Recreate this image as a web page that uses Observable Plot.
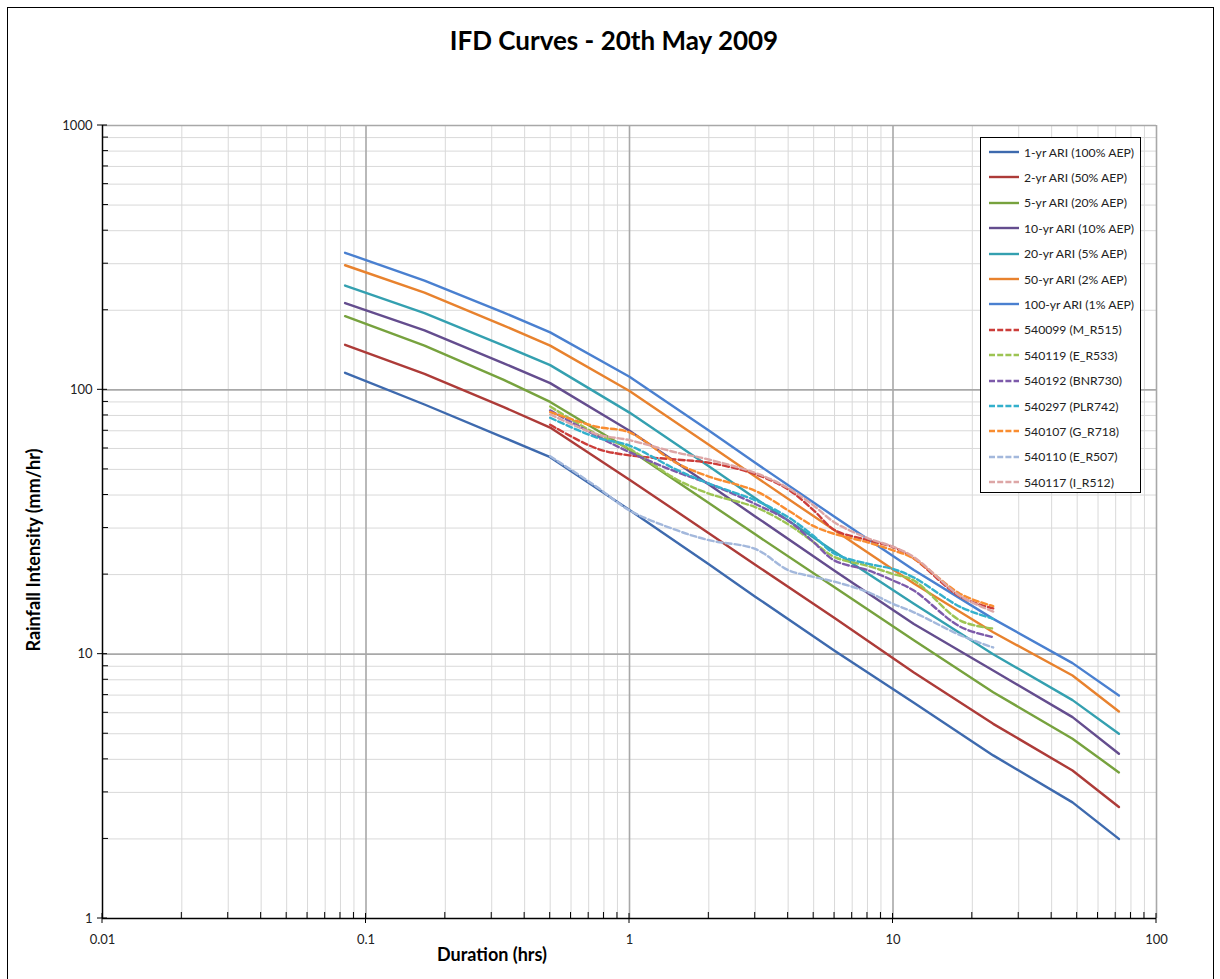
<!DOCTYPE html>
<html>
<head>
<meta charset="utf-8">
<script src="https://cdn.jsdelivr.net/npm/d3@7"></script>
<script src="https://cdn.jsdelivr.net/npm/@observablehq/plot@0.6"></script>
<style>
  body { margin: 0; background: #fff; }
  #wrap { position: relative; width: 1220px; height: 979px; overflow: hidden; background: #fff; }
  #frame { position: absolute; left: 7px; top: 7px; width: 1207px; height: 1000px; border: 1.5px solid #000; box-sizing: border-box; }
  #title { position: absolute; top: 24px; left: 0; width: 1228px; text-align: center;
    font-family: Lato, "Open Sans", sans-serif; font-weight: bold; font-size: 26px; color: #000; }
  #chart { position: absolute; left: 0; top: 100px; }
  .axlabel { position: absolute; font-family: Lato, "Open Sans", sans-serif; font-weight: bold; font-size: 18px; color: #000; white-space: nowrap; }
  #ylab { left: 33px; top: 550px; transform: translate(-50%, -50%) rotate(-90deg); }
  #xlab { left: 492px; top: 954px; transform: translate(-50%, -50%); }
  #legend { position: absolute; left: 980px; top: 137px; width: 161px; height: 356px; border: 1px solid #000; background: #fff; box-sizing: border-box; }
  .lrow { position: absolute; left: 7px; height: 20px; display: flex; align-items: center;
    font-family: Lato, "Open Sans", sans-serif; font-size: 12.2px; color: #222; white-space: nowrap; }
  .lrow svg { margin-right: 4px; }
</style>
</head>
<body>
<div id="wrap">
  <div id="frame"></div>
  <div id="title">IFD Curves - 20th May 2009</div>
  <div id="chart"></div>
  <div class="axlabel" id="ylab">Rainfall Intensity (mm/hr)</div>
  <div class="axlabel" id="xlab">Duration (hrs)</div>
  <div id="legend"></div>
</div>
<script>
// ---- Data ----
const ifdDurations = [0.0833, 0.1667, 0.3333, 0.5, 1, 2, 3, 6, 12, 24, 48, 72];
const ari1   = [116, 88, 66, 55.6, 35.1, 21.9, 16.5, 10.3, 6.55, 4.14, 2.75, 2.0];
const ari2   = [148, 115, 86, 72, 45.7, 28.7, 21.8, 13.7, 8.53, 5.45, 3.63, 2.64];
const ari5   = [190, 147, 109, 90, 59.3, 37.3, 28.4, 17.9, 11.3, 7.18, 4.79, 3.57];
const ari10  = [213, 168, 126, 106, 70, 43.8, 33.2, 20.7, 13.0, 8.68, 5.78, 4.2];
const ari20  = [248, 195, 147, 124, 82, 51.4, 38.9, 24.4, 15.5, 10.0, 6.7, 5.0];
const ari50  = [296, 233, 175, 147, 99, 62, 47, 29.4, 18.5, 12.1, 8.3, 6.07];
const ari100 = [330, 259, 196, 165, 112, 70.2, 53, 33.1, 20.8, 13.6, 9.25, 6.98];

const obsDurations = [0.5, 0.75, 1, 1.5, 2, 3, 4, 5, 6, 8, 10, 12, 18, 24];
const g540099 = [73.8, 60, 56.5, 54.5, 53, 48, 42, 35, 29.5, 27, 25.4, 23, 16.5, 14.9];
const g540119 = [86.5, 68, 59.8, 46, 40.5, 36, 31, 26.5, 23.3, 21.6, 20.1, 19.0, 13.4, 12.5];
const g540192 = [83.6, 67, 58.1, 49, 44.2, 37, 32, 26.5, 22.6, 20.8, 19.0, 17.4, 12.7, 11.6];
const g540297 = [78.4, 66, 61.5, 50, 44.2, 38.2, 33, 28, 24, 22, 21, 19.5, 15.1, 13.6];
const g540107 = [82.4, 72.5, 69, 53, 47, 41.5, 35, 30.5, 28.5, 26.5, 24.7, 23, 16.9, 15.2];
const g540110 = [56.1, 43, 35, 29.5, 27, 25, 20.8, 19.6, 18.8, 17.2, 15.5, 14.4, 11.8, 10.6];
const g540117 = [80.7, 68, 64.5, 58, 54.5, 48.5, 42.5, 36.5, 31.5, 27.5, 25.5, 23.3, 16.6, 14.5];

const ifdNames = ["1-yr ARI (100% AEP)", "2-yr ARI (50% AEP)", "5-yr ARI (20% AEP)", "10-yr ARI (10% AEP)",
  "20-yr ARI (5% AEP)", "50-yr ARI (2% AEP)", "100-yr ARI (1% AEP)"];
const ifdValues = [ari1, ari2, ari5, ari10, ari20, ari50, ari100];
const ifdColors = ["#3e6aae", "#ad3b38", "#77a23e", "#644d8e", "#34a0b0", "#e8822e", "#4a80d0"];

const obsNames = ["540099 (M_R515)", "540119 (E_R533)", "540192 (BNR730)", "540297 (PLR742)",
  "540107 (G_R718)", "540110 (E_R507)", "540117 (I_R512)"];
const obsValues = [g540099, g540119, g540192, g540297, g540107, g540110, g540117];
const obsColors = ["#cc3d3a", "#9dc453", "#7d5aaa", "#33b0cc", "#f98d30", "#a3b8dc", "#dda6a6"];

const xMajor = [0.01, 0.1, 1, 10, 100];
const xTickLabels = ["0.01", "0.1", "1", "10", "100"];
const yMajor = [1, 10, 100, 1000];
const yTickLabels = ["1", "10", "100", "1000"];
const minorMult = [2, 3, 4, 5, 6, 7, 8, 9];
const xMinor = xMajor.slice(0, -1).flatMap(d => minorMult.map(m => +(d * m).toPrecision(3)));
const yMinor = yMajor.slice(0, -1).flatMap(d => minorMult.map(m => d * m));

// ---- Tables ----
const ifdRows = ifdNames.flatMap((name, i) => ifdDurations.map((d, j) => ({name, d, v: ifdValues[i][j]})));
const obsRows = obsNames.flatMap((name, i) => obsDurations.map((d, j) => ({name, d, v: obsValues[i][j]})));

const xLabelOf = d => xTickLabels[xMajor.findIndex(v => Math.abs(v - d) < 1e-9 * Math.max(1, d))];
const yLabelOf = d => yTickLabels[yMajor.findIndex(v => Math.abs(v - d) < 1e-9 * Math.max(1, d))];

const chart = Plot.plot({
  width: 1220,
  height: 879,
  marginTop: 25,
  marginLeft: 102,
  marginRight: 64,
  marginBottom: 61,
  style: {fontFamily: "Lato, 'Open Sans', sans-serif", fontSize: "13px", color: "#222", background: "transparent"},
  x: {type: "log", domain: [0.01, 100]},
  y: {type: "log", domain: [1, 1000]},
  color: {domain: [...ifdNames, ...obsNames], range: [...ifdColors, ...obsColors]},
  marks: [
    Plot.ruleX(xMinor, {stroke: "#d9d9d9", strokeWidth: 1}),
    Plot.ruleY(yMinor, {stroke: "#d9d9d9", strokeWidth: 1}),
    Plot.ruleX(xMajor.slice(1), {stroke: "#a8a8a8", strokeWidth: 1.6}),
    Plot.ruleY(yMajor.slice(1), {stroke: "#a8a8a8", strokeWidth: 1.6}),
    Plot.axisX(xMajor, {tickSize: 0, tickPadding: 16, tickFormat: xLabelOf, label: null, fill: "#222"}),
    Plot.axisY(yMajor, {tickSize: 0, tickPadding: 10, tickFormat: yLabelOf, label: null, fill: "#222"}),
    Plot.line(ifdRows, {x: "d", y: "v", z: "name", stroke: "name", strokeWidth: 2.4, curve: "linear"}),
    Plot.line(obsRows, {x: "d", y: "v", z: "name", stroke: "name", strokeWidth: 2.4, strokeDasharray: "6,3", curve: "catmull-rom"}),
    Plot.ruleX([0.01], {stroke: "#000", strokeWidth: 1.5}),
    Plot.ruleY([1], {stroke: "#000", strokeWidth: 1.5})
  ]
});

// tick marks via the plot's own scales
const sx = chart.scale("x"), sy = chart.scale("y");
const x0 = sx.apply(0.01), y0 = sy.apply(1);
const tg = d3.select(chart).append("g").attr("stroke", "#000").attr("stroke-width", 1);
xMajor.forEach(v => tg.append("line").attr("x1", sx.apply(v)).attr("x2", sx.apply(v)).attr("y1", y0 - 5).attr("y2", y0 + 5));
xMinor.forEach(v => tg.append("line").attr("x1", sx.apply(v)).attr("x2", sx.apply(v)).attr("y1", y0 - 6).attr("y2", y0));
yMajor.forEach(v => tg.append("line").attr("y1", sy.apply(v)).attr("y2", sy.apply(v)).attr("x1", x0 - 5).attr("x2", x0 + 5));
yMinor.forEach(v => tg.append("line").attr("y1", sy.apply(v)).attr("y2", sy.apply(v)).attr("x1", x0).attr("x2", x0 + 6));

document.getElementById("chart").appendChild(chart);

// legend
const legend = document.getElementById("legend");
const allNames = [...ifdNames, ...obsNames];
const allColors = [...ifdColors, ...obsColors];
allNames.forEach((name, i) => {
  const row = document.createElement("div");
  row.className = "lrow";
  row.style.top = (4 + i * 25.4) + "px";
  const dashed = i >= ifdNames.length;
  row.innerHTML = `<svg width="32" height="6"><line x1="1" y1="3" x2="31" y2="3" stroke="${allColors[i]}" stroke-width="2.4" ${dashed ? 'stroke-dasharray="6,2.2"' : ''}/></svg><span>${name}</span>`;
  legend.appendChild(row);
});
</script>
</body>
</html>
